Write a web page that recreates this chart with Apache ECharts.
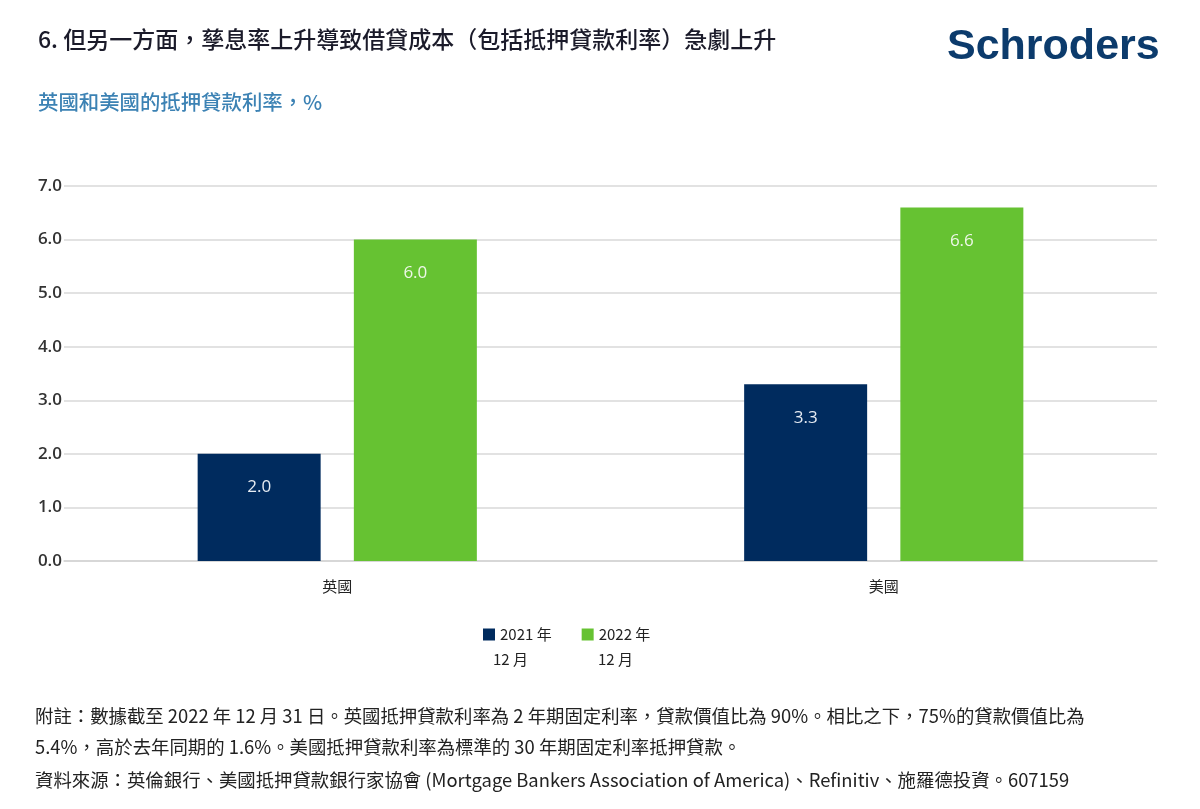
<!DOCTYPE html>
<html>
<head>
<meta charset="utf-8">
<script src="https://cdn.jsdelivr.net/npm/echarts@6/dist/echarts.min.js"></script>
<style>
  html, body { margin: 0; padding: 0; background: #fff; }
  #chart { width: 1200px; height: 809px; }
</style>
</head>
<body>
<div id="chart"></div>
<script>
// 数据
const categories = ['英國', '美國']
const seriesNames = ['2021 年', '2022 年']
const legendSub = ['12 月', '12 月']
const rate2021 = [2.0, 3.3]
const rate2022 = [6.0, 6.6]
const yTicks = [0, 1, 2, 3, 4, 5, 6, 7]

const cjk = '"Noto Sans CJK TC", "Noto Sans", sans-serif'
const navy = '#002b5e'
const green = '#66c232'

const notes = [
    '附註：數據截至 2022 年 12 月 31 日。英國抵押貸款利率為 2 年期固定利率，貸款價值比為 90%。相比之下，75%的貸款價值比為',
    '5.4%，高於去年同期的 1.6%。美國抵押貸款利率為標準的 30 年期固定利率抵押貸款。',
    '資料來源：英倫銀行、美國抵押貸款銀行家協會 (Mortgage Bankers Association of America)、Refinitiv、施羅德投資。607159'
]

document.addEventListener('DOMContentLoaded', function () {
    const myChart = echarts.init(document.getElementById('chart'))

    const labelStyle = function (color) {
        return {
            show: true,
            position: 'insideTop',
            distance: 25,
            color: color,
            fontSize: 17,
            fontFamily: '"Open Sans", sans-serif',
            formatter: function (p) { return p.value.toFixed(1) }
        }
    }

    const option = {
        animation: false,
        backgroundColor: '#fff',
        // 标题
        title: [
            {
                text: '6. 但另一方面，孳息率上升導致借貸成本（包括抵押貸款利率）急劇上升',
                left: 33,
                top: 23,
                textStyle: { fontSize: 23, fontWeight: 500, color: '#1b1b2a', fontFamily: cjk }
            },
            {
                text: '英國和美國的抵押貸款利率，%',
                left: 33,
                top: 87,
                textStyle: { fontSize: 20.4, fontWeight: 500, color: '#3c82b4', fontFamily: cjk }
            }
        ],
        legend: {
            data: seriesNames,
            left: 478,
            top: 622,
            itemWidth: 12,
            itemHeight: 12,
            itemGap: 30,
            icon: 'rect',
            textStyle: { fontSize: 15, color: '#222', fontFamily: cjk }
        },
        grid: { left: 64, right: 43, top: 186, bottom: 248 },
        xAxis: {
            type: 'category',
            data: categories,
            axisLine: { lineStyle: { color: '#d4d4d4', width: 1.5 } },
            axisTick: { show: false },
            axisLabel: { margin: 18, fontSize: 15, color: '#222', fontFamily: cjk }
        },
        yAxis: {
            type: 'value',
            min: yTicks[0],
            max: yTicks[yTicks.length - 1],
            interval: 1,
            axisLine: { show: false },
            axisTick: { show: false },
            splitLine: { lineStyle: { color: '#d9d9d9', width: 1.5 } },
            axisLabel: {
                margin: 2,
                fontSize: 17,
                fontWeight: 600,
                color: '#333',
                padding: [0, 0, 7, 0],
                fontFamily: '"Open Sans", sans-serif',
                formatter: function (v) { return v.toFixed(1) }
            }
        },
        series: [
            {
                name: seriesNames[0],
                type: 'bar',
                data: rate2021,
                barWidth: 123,
                barGap: '27%',
                itemStyle: { color: navy },
                label: labelStyle('#e6ecf3')
            },
            {
                name: seriesNames[1],
                type: 'bar',
                data: rate2022,
                barWidth: 123,
                barGap: '27%',
                itemStyle: { color: green },
                label: labelStyle('#eef7e8')
            }
        ],
        graphic: [
            {
                type: 'text',
                left: 947,
                top: 26,
                style: {
                    text: 'Schroders',
                    fontSize: 43,
                    fontWeight: 'bold',
                    fill: '#0c3b6c',
                    fontFamily: '"Liberation Sans", sans-serif'
                }
            },
            {
                type: 'text', left: 493, top: 652,
                style: { text: legendSub[0], fontSize: 15, fill: '#222', fontFamily: cjk }
            },
            {
                type: 'text', left: 598, top: 652,
                style: { text: legendSub[1], fontSize: 15, fill: '#222', fontFamily: cjk }
            },
            {
                type: 'text', left: 35, top: 707,
                style: { text: notes[0], fontSize: 18.4, fill: '#222', fontFamily: cjk }
            },
            {
                type: 'text', left: 35, top: 738,
                style: { text: notes[1], fontSize: 18.4, fill: '#222', fontFamily: cjk }
            },
            {
                type: 'text', left: 35, top: 771,
                style: { text: notes[2], fontSize: 18.4, fill: '#222', fontFamily: cjk }
            }
        ]
    }

    myChart.setOption(option)
})
</script>
</body>
</html>
